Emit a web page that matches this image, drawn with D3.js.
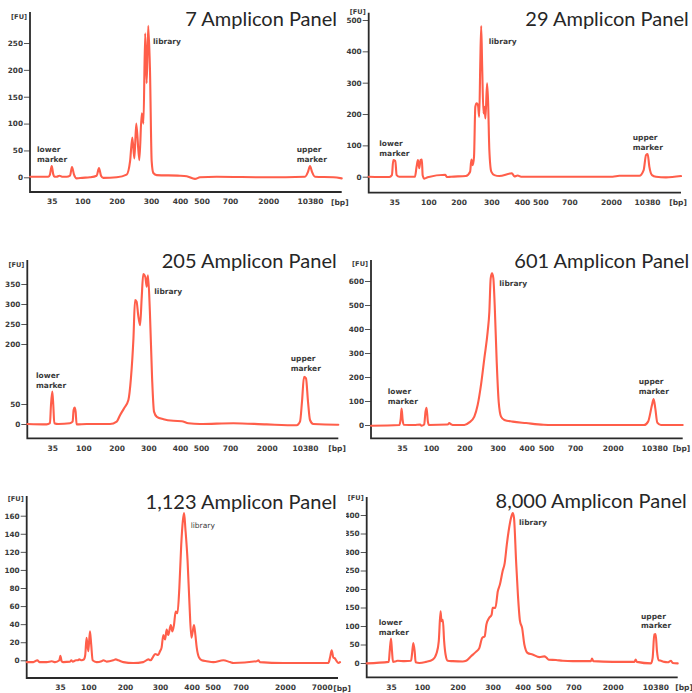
<!DOCTYPE html>
<html><head><meta charset="utf-8">
<script src="https://cdn.jsdelivr.net/npm/d3@7"></script>
<style>body{margin:0;background:#fff}svg{display:block}</style>
</head><body>
<svg id="c" width="692" height="693"></svg>
<script>
// ---------- data ----------
const titles = ["7 Amplicon Panel","29 Amplicon Panel","205 Amplicon Panel","601 Amplicon Panel","1,123 Amplicon Panel","8,000 Amplicon Panel"];
const bpTicks = [35,100,200,300,400,500,700,2000,10380];
const bpTicks1123 = [35,100,200,300,400,500,700,2000,7000];
const fuTicks7 = [0,50,100,150,200,250];
const fuTicks29 = [0,100,200,300,400,500];
const fuTicks205 = [0,50,200,250,300,350];
const fuTicks601 = [0,100,200,300,400,500,600];
const fuTicks1123 = [0,20,40,60,80,100,120,140,160];
const fuTicks8000 = [0,50,100,150,200,250,300,350,400];

// [size in bp, fluorescence FU]
const trace7 = [[20,1],[32.7,1],[33.8,5],[35,21],[38.5,5],[40.7,1],[45.6,1],[51.3,3],[56.9,1],[66.8,1],[73.9,3],[78.1,19],[82.4,5],[88,-2],[100,-1],[122,0],[141.7,3],[148.5,17],[154.4,3],[161,-1],[200,0],[229,5],[239,30],[245.6,74],[251.5,35],[257,100],[266,32],[273,119],[278,100],[283,268],[287.4,175],[292,282],[297,200],[302.3,30],[308,8],[319.5,4],[400,3],[431,2],[469,-3],[492,0],[606,1],[1943,0],[9374,1],[9977,10],[10380,21],[10672,10],[11109,1],[13782,0],[15000,-2]];
const trace29 = [[20,0],[32.1,-1],[33.6,5],[34.4,53],[36.9,50],[39.5,5],[44.6,0],[74.5,0],[77.6,32],[80.2,53],[82.7,27],[85.2,53],[87.7,55],[89.2,5],[92.4,-6],[98.7,-2],[156,6],[161.5,-1],[174.7,0],[222,2],[235,16],[239,55],[243,37],[247,64],[251,223],[255,234],[259,229],[263,191],[266,351],[269,481],[272,351],[276,202],[279,223],[282,186],[287,298],[290,245],[294,85],[300,16],[310,5],[326,2],[367,11],[375,1],[386,4],[397,0],[2388,0],[3940,3],[8596,3],[9604,21],[10147,69],[10471,72],[10697,32],[11060,5],[11603,0],[12962,-2],[15000,2]];
const trace205 = [[20,0],[31.6,-1],[33.6,2],[34.2,47],[35,81],[37.1,47],[39.2,2],[47.6,0],[72,2],[77.6,6],[79.7,35],[81.8,41],[83.9,31],[86,-1],[110,0],[180,0],[200,6],[210.5,22],[223,39],[237,60],[245,114],[253,214],[258,310],[263,306],[268,272],[274,247],[279,314],[284,375],[290.5,368],[295,343],[299,372],[305,281],[312,114],[318,31],[327,18],[348,12],[379,8],[408,7],[440,2],[495,0],[818,2],[2000,-1],[8558,-3],[9287,6],[9724,56],[10161,118],[10519,114],[10796,56],[11073,10],[11535,0],[14769,-2],[15000,-2]];
const trace601 = [[20,-3],[33.7,0],[34.4,28],[34.8,69],[36.5,20],[38.7,1],[62.2,0],[75.7,2],[78.7,-3],[84.7,2],[87.7,56],[90,72],[93,14],[95.4,0],[150,2],[155,8],[160,3],[165,0],[200,0],[215,11],[230,35],[240,83],[250,167],[260,278],[270,389],[275,472],[279,611],[283,632],[287,611],[291,500],[297,264],[303.4,97],[311.5,35],[323,21],[351.7,14],[398,8],[487,1],[546,0],[8324,0],[9129,14],[9911,83],[10246,108],[10543,69],[10869,10],[11467,0],[15000,0]];
const trace1123 = [[20,-2],[23,-2],[24.8,0],[25.7,-2],[29,-2],[31.3,-1],[32.8,-2],[34.7,0],[35.8,5],[38.8,-1],[42.7,-2],[58,-1.5],[61,0],[64,-1.5],[71.7,0],[75.5,0],[79.3,1],[84.7,0],[90,1],[93,6],[96,25],[100,10],[104.5,32],[108,17],[111.8,0],[122.7,-2],[136,-1],[141,0],[150,-1.5],[168,0],[175,1],[182,0],[195.5,-2],[223.8,-3],[252,-2],[267,1],[273,0],[279,3],[286,7],[295,6],[300,10],[305,14],[310.5,28],[316,23],[321,34],[326,28],[334,39],[339,32],[344,39],[349.5,54],[355,52],[361,80],[367,128],[372,154],[376,163],[380,146],[387,110],[393,62],[399,25],[405,32],[411,39],[417.5,28],[424,14],[435,3],[448,0],[471,-1],[505,-2],[576,0],[624,-2],[648,-3],[1169,-1],[1218,0],[1267,-2],[1951,-3],[4091,-3],[7728,-3],[7910,3],[8092,11],[8273,3],[8455,2],[8637,-1],[8818,-3],[9000,-2]];
const trace8000 = [[20,-1],[33.6,3],[34.2,32],[35,66],[37.1,32],[39.2,3],[45.5,5],[49,6],[63,5],[77,6],[79,23],[81.8,54],[84.6,32],[86.7,2],[94.4,0],[111,3],[130,9],[141,27],[147,59],[152,140],[154.6,113],[158.4,117],[162,59],[166,23],[172,6],[186,5],[214,4],[224,6],[238,18],[252,30],[262,41],[270,68],[277,72],[282,104],[290,122],[297,131],[300,149],[309,149],[317,194],[324,212],[333,248],[340,270],[347,320],[353,356],[361,392],[367,405],[371,392],[378,275],[384,185],[391,113],[398,95],[408,50],[424,27],[448,23],[481,16],[507,18],[522,14],[536,9],[585,8],[629,6],[696,5],[1284,5],[1317,12],[1361,5],[2000,3],[6256,3],[6517,9],[6779,3],[9529,-1],[9857,14],[10184,77],[10449,78],[10725,32],[11070,8],[11552,6],[12242,3],[12932,2],[13621,6],[13966,0],[15000,-1]];

const traces = [trace7, trace29, trace205, trace601, trace1123, trace8000];
const fuTicks = [fuTicks7, fuTicks29, fuTicks205, fuTicks601, fuTicks1123, fuTicks8000];
const xTicks = [bpTicks, bpTicks, bpTicks, bpTicks, bpTicks1123, bpTicks];
const markerText = ["lower marker","library","upper marker"];

// ---------- layout (pixels) ----------
const layouts = [
 {x0:30, x1:341.7, yTop:12, yAxis:192, bpEdge:[20,15000], tickPx:[51.7,82.3,116.7,151,180,201.7,230,268.3,310], y0:177.3, yRef:43, fuLabelY:19, bpLabelX:331, titleX:337, titleY:25.7,
  notes:[[0,37,152],[1,153,43.7],[2,296.7,152]]},
 {x0:368.7, x1:681, yTop:12.7, yAxis:192.7, bpEdge:[20,15000], tickPx:[394.3,428.3,458.7,491.3,522,540.3,569.3,611,647], y0:176.7, yRef:20, fuLabelY:14, bpLabelX:669.3, titleX:688.7, titleY:26,
  notes:[[0,379.3,146.3],[1,488.7,43.7],[2,632.7,140.3]]},
 {x0:27.3, x1:338.3, yTop:260, yAxis:438.3, bpEdge:[20,15000], tickPx:[52.3,83.3,116.7,148.3,180,201,230,266.7,305], y0:424, yRef:284, fuLabelY:266.5, bpLabelX:328.3, titleX:336.7, titleY:268.3,
  notes:[[0,36,378],[1,154.3,293.7],[2,290.7,361.3]]},
 {x0:371, x1:682.7, yTop:260, yAxis:438.3, bpEdge:[20,15000], tickPx:[402,431,464.3,497.7,526.7,546,575,612.7,654.3], y0:425, yRef:281, fuLabelY:266, bpLabelX:672.7, titleX:689.3, titleY:268.3,
  notes:[[0,387.7,394],[1,499.3,286.3],[2,638.7,384]]},
 {x0:26.7, x1:338, yTop:496, yAxis:678, bpEdge:[20,9000], bpEdgePx:340, tickPx:[60,88.3,125,160,191.7,212.7,240.7,285,321.7], y0:660.3, yRef:515.7, fuLabelY:501, bpLabelX:333.3, titleX:336.7, titleY:508.7,
  notes:[[1,190.7,527.7]], libLight:true},
 {x0:366.7, x1:677.7, yTop:497, yAxis:677.3, bpEdge:[20,15000], tickPx:[391,422,457.7,492.7,522.7,543.3,573.3,612.7,655.3], y0:663, yRef:515, fuLabelY:499.5, bpLabelX:675.3, titleX:686.7, titleY:508, clipLeft:346,
  notes:[[0,378.7,625],[1,519,525],[2,641,618.7]]}
];

// ---------- drawing ----------
const svg = d3.select("#c");
const defs = svg.append("defs");
const lineColor = "#ff5e4a";
const txtColor = "#3a3a3a";
const tickFont = "DejaVu Sans, Verdana, sans-serif";

layouts.forEach((L, i) => {
  const g = svg.append("g");
  if (L.clipLeft != null) {
    defs.append("clipPath").attr("id", "clip" + i)
      .append("rect").attr("x", L.clipLeft).attr("y", 0).attr("width", 692 - L.clipLeft).attr("height", 693);
    g.attr("clip-path", `url(#clip${i})`);
  }
  const ticks = xTicks[i];
  const fTicks = fuTicks[i];
  const rightPx = L.bpEdgePx != null ? L.bpEdgePx : L.x1;
  const x = d3.scaleLinear()
    .domain([L.bpEdge[0], ...ticks, L.bpEdge[1]])
    .range([L.x0, ...L.tickPx, rightPx]);
  const topTick = fTicks[fTicks.length - 1];
  const y = d3.scaleLinear().domain([0, topTick]).range([L.y0, L.yRef]);

  // y axis ticks & labels
  const yAx = d3.axisLeft(y).tickValues(fTicks).tickSize(6).tickPadding(1).tickFormat(d3.format("d"));
  const yg = g.append("g").attr("transform", `translate(${L.x0},0)`).call(yAx);
  yg.select(".domain").remove();
  yg.selectAll(".tick line").attr("stroke", "#555").attr("stroke-width", 1);
  yg.selectAll(".tick text").attr("fill", txtColor).attr("font-family", tickFont)
    .attr("font-weight", "bold").attr("font-size", 7.3);

  // x axis labels
  const xAx = d3.axisBottom(x).tickValues(ticks).tickSize(0).tickPadding(7).tickFormat(d3.format("d"));
  const xg = g.append("g").attr("transform", `translate(0,${L.yAxis})`).call(xAx);
  xg.select(".domain").remove();
  xg.selectAll(".tick text").attr("fill", txtColor).attr("font-family", tickFont)
    .attr("font-weight", "bold").attr("font-size", 7.5);

  // axis lines
  g.append("path")
    .attr("d", `M${L.x0},${L.yTop}V${L.yAxis}H${L.x1}`)
    .attr("fill", "none").attr("stroke", "#2a2a2a").attr("stroke-width", 1.8);

  // unit labels
  g.append("text").attr("x", L.x0 - 3).attr("y", L.fuLabelY).attr("text-anchor", "end")
    .attr("font-family", tickFont).attr("font-weight", "bold").attr("font-size", 6.6)
    .attr("fill", txtColor).text("[FU]");
  g.append("text").attr("x", L.bpLabelX).attr("y", L.yAxis + 12.5)
    .attr("font-family", tickFont).attr("font-weight", "bold").attr("font-size", 7.5)
    .attr("fill", txtColor).text("[bp]");

  // trace
  const line = d3.line().x(d => x(d[0])).y(d => y(d[1])).curve(d3.curveMonotoneX);
  g.append("path").datum(traces[i]).attr("d", line)
    .attr("fill", "none").attr("stroke", lineColor).attr("stroke-width", 2.1)
    .attr("stroke-linejoin", "round").attr("stroke-linecap", "round");

  // annotations
  L.notes.forEach(([k, nx, ny]) => {
    const words = markerText[k].split(" ");
    const t = g.append("text").attr("x", nx).attr("y", ny)
      .attr("font-family", tickFont).attr("font-weight", (L.libLight && k === 1) ? "normal" : "bold")
      .attr("font-size", 7.5).attr("fill", txtColor);
    words.forEach((w, j) => t.append("tspan").attr("x", nx).attr("dy", j === 0 ? 0 : 9.7).text(w));
  });

  // title
  g.append("text").attr("x", L.titleX).attr("y", L.titleY).attr("text-anchor", "end")
    .attr("font-family", "Lato, 'Open Sans', sans-serif").attr("font-size", 20)
    .attr("fill", "#262626").text(titles[i]);
});
</script>
</body></html>
